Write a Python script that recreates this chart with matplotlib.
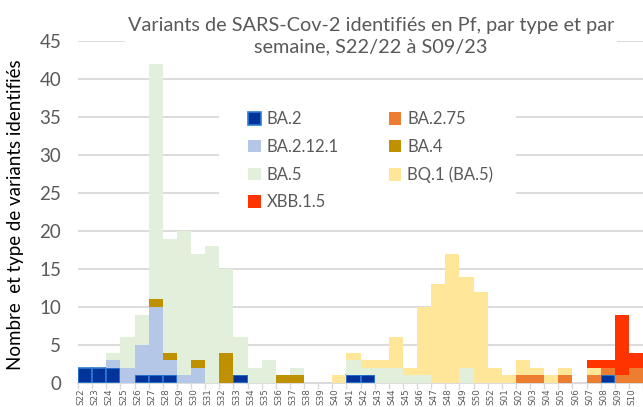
import matplotlib
matplotlib.use("Agg")
import matplotlib.pyplot as plt
import matplotlib.transforms as mtransforms
from matplotlib.patches import Patch, Rectangle
import numpy as np

plt.rcParams['font.family'] = ['Lato', 'DejaVu Sans']

weeks = [f"S{w}" for w in range(22, 51)] + ["S52"] + [f"S{w:02d}" for w in range(1, 11)]

def series(d):
    return [d.get(w, 0) for w in weeks]

ba2 = series({"S22": 2, "S23": 2, "S24": 2, "S26": 1, "S27": 1, "S28": 1, "S33": 1,
              "S41": 1, "S42": 1, "S08": 1})
ba275 = series({"S02": 1, "S03": 1, "S05": 1, "S07": 1, "S08": 1, "S09": 1, "S10": 2})
ba2121 = series({"S24": 1, "S25": 2, "S26": 4, "S27": 9, "S28": 2, "S29": 1, "S30": 2})
ba4 = series({"S27": 1, "S28": 1, "S30": 1, "S32": 4, "S36": 1, "S37": 1})
ba5 = series({"S24": 1, "S25": 4, "S26": 4, "S27": 31, "S28": 15, "S29": 19, "S30": 14,
              "S31": 18, "S32": 11, "S33": 5, "S34": 2, "S35": 3, "S37": 1, "S41": 2,
              "S42": 1, "S43": 2, "S44": 2, "S45": 1, "S46": 1, "S49": 2})
bq1 = series({"S40": 1, "S41": 1, "S42": 1, "S43": 1, "S44": 4, "S45": 1, "S46": 9,
              "S47": 13, "S48": 17, "S49": 12, "S50": 12, "S52": 2, "S01": 1, "S02": 2,
              "S03": 1, "S04": 1, "S05": 1, "S07": 1})
xbb = series({"S07": 1, "S08": 1, "S09": 8, "S10": 2})

names = ["BA.2", "BA.2.75", "BA.2.12.1", "BA.4", "BA.5", "BQ.1 (BA.5)", "XBB.1.5"]
values = [ba2, ba275, ba2121, ba4, ba5, bq1, xbb]
colors = ["#00349A", "#ED7D31", "#B4C7E7", "#BF9000", "#E2EFDA", "#FFE699", "#FF3300"]
edges = ["#2E7BD0", None, None, None, None, None, None]

W, H = 643, 407
fig = plt.figure(figsize=(W / 100, H / 100), dpi=100)
ax = fig.add_axes([78 / W, 1 - 383 / H, (643 - 78) / W, (383 - 41) / H])

x = np.arange(len(weeks))
bottom = np.zeros(len(weeks))
for name, vals, c, e in zip(names, values, colors, edges):
    v = np.array(vals, dtype=float)
    m = v > 0
    if e:
        ax.bar(x[m], v[m], 1.0, bottom=bottom[m], color=c, edgecolor=e, linewidth=1.2,
               zorder=3)
    else:
        ax.bar(x[m], v[m], 1.0, bottom=bottom[m], color=c, linewidth=0, zorder=3)
    bottom += v

ax.set_xlim(-0.5, len(weeks) - 0.5)
ax.set_ylim(0, 45)
ax.set_yticks(range(0, 46, 5))
ax.yaxis.grid(True, color="#D9D9D9", linewidth=1.3, zorder=0)
ax.set_axisbelow(True)
for s in ["top", "right", "left"]:
    ax.spines[s].set_visible(False)
ax.spines["bottom"].set_color("#D9D9D9")
ax.spines["bottom"].set_linewidth(1.3)
ax.tick_params(axis="y", length=0, labelsize=13.5, labelcolor="#595959", pad=12)

ax.set_xticks(x)
ax.set_xticklabels(weeks, rotation=90, fontsize=6.3, color="#595959",
                   family=["DejaVu Sans"])
ax.tick_params(axis="x", length=0, pad=4)
offset = mtransforms.ScaledTranslation(-4 / 100, 0, fig.dpi_scale_trans)
for lab in ax.get_xticklabels():
    lab.set_transform(lab.get_transform() + offset)
ax.set_xticks(np.arange(-0.5, len(weeks), 1), minor=True)
ax.tick_params(axis="x", which="minor", length=4, color="#D9D9D9", width=1)

fig.text(16 / W, 1 - 215 / H, "Nombre  et type de variants identifiés", rotation=90,
         ha="center", va="center", fontsize=13.5, color="#000000")

fig.text(371 / W, 1 - 36 / H,
         "Variants de SARS-Cov-2 identifiés en Pf, par type et par\nsemaine, S22/22 à S09/23",
         ha="center", va="center", fontsize=14.3, color="#595959", linespacing=1.3,
         bbox=dict(facecolor="white", edgecolor="none", pad=2), zorder=5)

# white background behind legend (covers gridlines)
fig.patches.append(Rectangle((219 / W, 1 - 212 / H), (516 - 219) / W, (212 - 88) / H,
                             transform=fig.transFigure, facecolor="white",
                             edgecolor="none", zorder=1))

handles = [Patch(facecolor=c, edgecolor=(e if e else c), linewidth=(1.2 if e else 0))
           for c, e in zip(colors, edges)]
order = [0, 2, 4, 6, 1, 3, 5]
leg = fig.legend([handles[i] for i in order], [names[i] for i in order],
                 loc="upper left", bbox_to_anchor=(240 / W, 1 - 103 / H), ncol=2,
                 frameon=False, fontsize=12, labelcolor="#595959",
                 handlelength=0.75, handleheight=0.75, handletextpad=0.35,
                 columnspacing=3.0, labelspacing=0.7, borderpad=0)
leg.set_zorder(6)

fig.savefig("out.png", dpi=100)
